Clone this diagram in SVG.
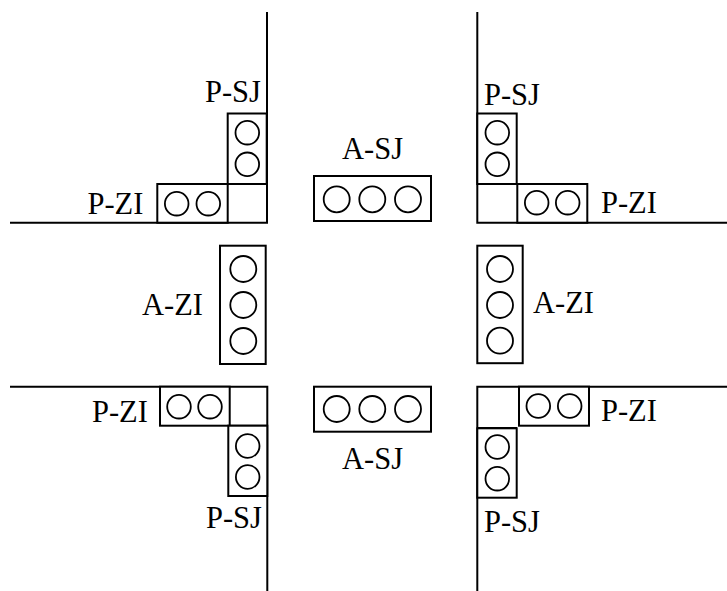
<svg xmlns="http://www.w3.org/2000/svg" width="727" height="591" viewBox="0 0 727 591">
<style>
rect,circle{fill:#fff;stroke:#000;stroke-width:2}
circle{stroke-width:1.8}
path{fill:none;stroke:#000;stroke-width:2}
text{font-family:"Liberation Serif","Times New Roman",serif;font-size:30.5px;fill:#000}
</style>
<rect width="727" height="591" style="stroke:none"/>
<g id="connectors">
<path d="M10 222.7H267V12"/>
<path d="M727 222.7H477.3V12"/>
<path d="M10 386.7H267.3V591"/>
<path d="M727 386.7H477.3V591"/>
<path d="M227.7 184H267M477.3 184H517"/>
<path d="M229.7 425.7H267.3M477.3 428H517"/>
</g>
<g id="p-sj-nw"><rect x="227.7" y="113.5" width="39" height="70.5"/><circle cx="247.3" cy="132.7" r="11.8"/><circle cx="247.3" cy="164.3" r="11.8"/><text x="205" y="101.7">P-SJ</text></g>
<g id="p-zi-nw"><rect x="157.3" y="184" width="70.4" height="38.7"/><circle cx="176.7" cy="203.7" r="11.8"/><circle cx="208.3" cy="203.7" r="11.8"/><text x="87.5" y="214">P-ZI</text></g>
<g id="p-sj-ne"><rect x="477.3" y="113.5" width="39.4" height="70.5"/><circle cx="497.3" cy="132.7" r="11.8"/><circle cx="497.3" cy="164.3" r="11.8"/><text x="484" y="105">P-SJ</text></g>
<g id="p-zi-ne"><rect x="517.3" y="184" width="70" height="38.7"/><circle cx="536.7" cy="202.7" r="11.8"/><circle cx="567.7" cy="202.7" r="11.8"/><text x="601" y="213.3">P-ZI</text></g>
<g id="a-sj-n"><rect x="314" y="176" width="117" height="45"/><circle cx="336.7" cy="199.3" r="13"/><circle cx="372.3" cy="199.3" r="13"/><circle cx="408" cy="199.3" r="13"/><text x="342" y="159.3">A-SJ</text></g>
<g id="a-zi-w"><rect x="220" y="245.7" width="45.7" height="118.3"/><circle cx="243.3" cy="269" r="13"/><circle cx="243.3" cy="305" r="13"/><circle cx="243.3" cy="341" r="13"/><text x="142" y="315">A-ZI</text></g>
<g id="a-zi-e"><rect x="477.3" y="245.7" width="45.4" height="117.5"/><circle cx="500" cy="269" r="13"/><circle cx="500" cy="305" r="13"/><circle cx="500" cy="340.7" r="13"/><text x="533" y="313.3">A-ZI</text></g>
<g id="a-sj-s"><rect x="314" y="386.7" width="117" height="45"/><circle cx="336.7" cy="409" r="13"/><circle cx="372.3" cy="409" r="13"/><circle cx="408" cy="409" r="13"/><text x="342" y="469">A-SJ</text></g>
<g id="p-zi-sw"><rect x="160" y="386.7" width="69.7" height="39"/><circle cx="179" cy="406.7" r="11.8"/><circle cx="210" cy="406.7" r="11.8"/><text x="92" y="421.5">P-ZI</text></g>
<g id="p-sj-sw"><rect x="228.3" y="425.7" width="39" height="70.3"/><circle cx="247.7" cy="446" r="11.8"/><circle cx="247.7" cy="477" r="11.8"/><text x="206" y="527.7">P-SJ</text></g>
<g id="p-zi-se"><rect x="519" y="386.7" width="70" height="39"/><circle cx="538.3" cy="406" r="11.8"/><circle cx="569.7" cy="406" r="11.8"/><text x="601" y="420.7">P-ZI</text></g>
<g id="p-sj-se"><rect x="477.3" y="428.3" width="39.4" height="69.4"/><circle cx="497.3" cy="447" r="11.8"/><circle cx="497.3" cy="478.7" r="11.8"/><text x="484" y="532.3">P-SJ</text></g>
</svg>
